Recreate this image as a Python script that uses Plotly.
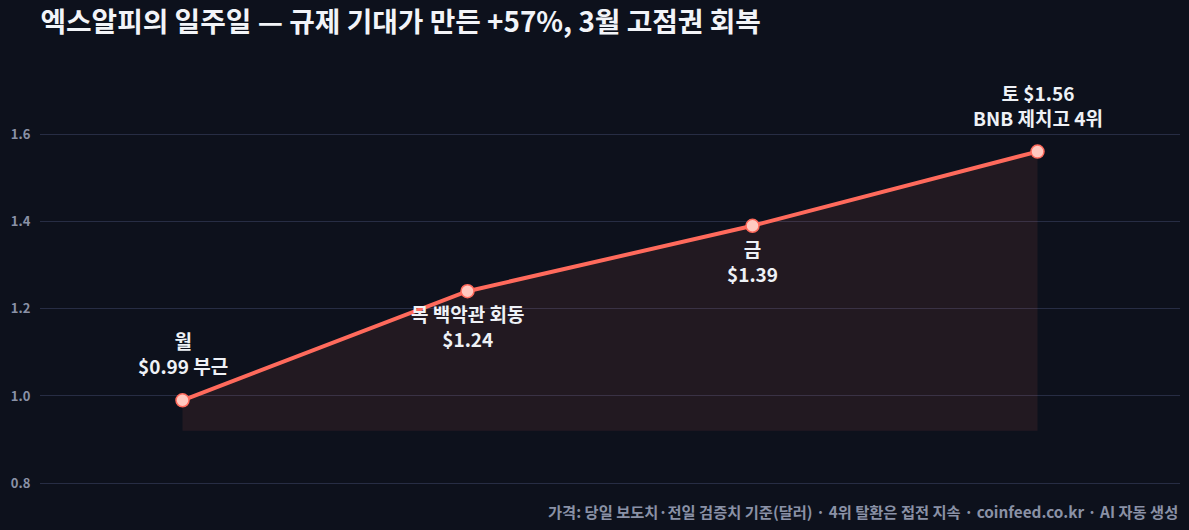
import plotly.graph_objects as go

# 요일별 XRP 가격 (달러)
days = ["월", "목", "금", "토"]
prices = [0.99, 1.24, 1.39, 1.56]
labels = ["월<br>$0.99 부근", "목 백악관 회동<br>$1.24", "금<br>$1.39", "토 $1.56<br>BNB 제치고 4위"]
label_above = [True, False, False, True]
base_level = 0.92
y_ticks = [0.8, 1.0, 1.2, 1.4, 1.6]

FONT = "Noto Sans CJK KR"
LINE = "#ff6a5c"

fig = go.Figure()
# baseline for the shaded area
fig.add_trace(go.Scatter(x=days, y=[base_level] * len(days), mode="lines",
                         line=dict(width=0), hoverinfo="skip", showlegend=False))
fig.add_trace(go.Scatter(
    x=days, y=prices, mode="lines+markers",
    fill="tonexty", fillcolor="rgba(255,106,92,0.09)",
    line=dict(color=LINE, width=4),
    marker=dict(size=13, color="#ffc9c0", line=dict(color=LINE, width=1.5)),
    showlegend=False))

notes = []
for d, p, t, up in zip(days, prices, labels, label_above):
    notes.append(dict(x=d, y=p, text=t, showarrow=False,
                      yanchor="bottom" if up else "top", yshift=19 if up else -7,
                      font=dict(family=FONT, size=19, color="#eef1f6", weight=600)))

notes.append(dict(text="가격: 당일 보도치·전일 검증치 기준(달러) · 4위 탈환은 접전 지속 · coinfeed.co.kr · AI 자동 생성",
                  xref="paper", yref="paper", x=1, y=-0.055, xanchor="right", yanchor="middle",
                  showarrow=False, font=dict(family=FONT, size=15.3, color="#8a91a6", weight=600)))

fig.update_layout(
    width=1189, height=530,
    paper_bgcolor="#0d111c", plot_bgcolor="#0d111c",
    margin=dict(l=40, r=9, t=70, b=42),
    font=dict(family=FONT, color="#eef1f6"),
    title=dict(text="<b>엑스알피의 일주일 — 규제 기대가 만든 +57%, 3월 고점권 회복</b>",
               x=0.034, xanchor="left", y=0.958, yanchor="middle",
               font=dict(family=FONT, size=27.8, color="#f2f4f8")),
    xaxis=dict(type="category", range=[-0.5, 3.5], showticklabels=False,
               showgrid=False, zeroline=False, showline=False),
    yaxis=dict(range=[0.789, 1.747], tickvals=y_ticks, ticktext=["0.8", "1.0", "1.2", "1.4", "1.6"],
               showgrid=True, gridcolor="#272d44", gridwidth=1, zeroline=False,
               ticks="outside", ticklen=6, tickcolor="#0d111c",
               tickfont=dict(family=FONT, size=13, color="#8a91a6", weight=600)),
    annotations=notes,
)

fig.write_html("out.html", config={"displayModeBar": False},
               post_script="document.body.style.margin='0';")
